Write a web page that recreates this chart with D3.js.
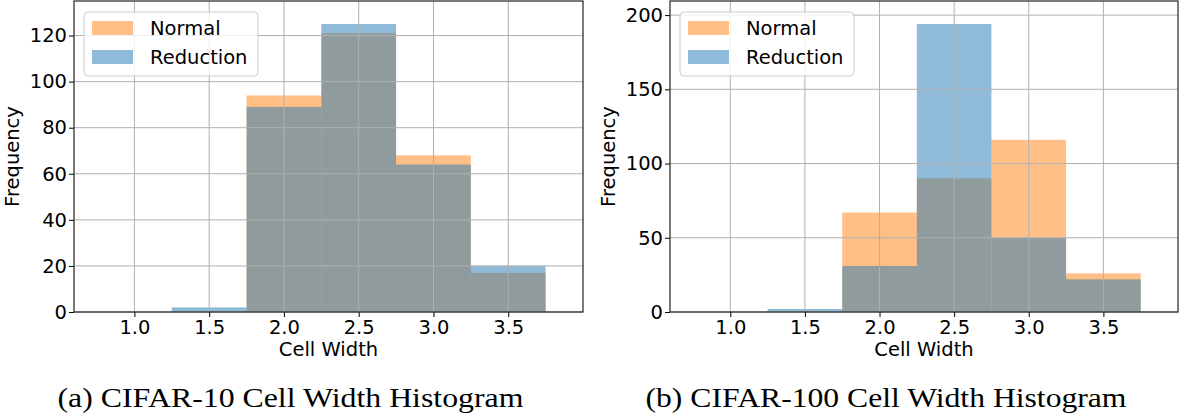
<!DOCTYPE html>
<html>
<head>
<meta charset="utf-8">
<script src="https://cdn.jsdelivr.net/npm/d3@7/dist/d3.min.js"></script>
<style>
  body { margin: 0; background: #fff; }
  svg text { font-family: "DejaVu Sans", sans-serif; fill: #000; }
  .caption { font-family: "Liberation Serif", serif; }
</style>
</head>
<body>
<div id="chart"></div>
<script>
// bin centres (bins are 0.5 wide)
const binCenters = [1.0, 1.5, 2.0, 2.5, 3.0, 3.5]
const binWidth = 0.5

const cifar10Normal = [0, 0, 94, 121, 68, 17]
const cifar10Reduction = [0, 2, 89, 125, 64, 20]
const cifar100Normal = [0, 0, 67, 90, 116, 26]
const cifar100Reduction = [0, 2, 31, 194, 50, 22]

const xTicks = [1.0, 1.5, 2.0, 2.5, 3.0, 3.5]
const yTicks10 = [0, 20, 40, 60, 80, 100, 120]
const yTicks100 = [0, 50, 100, 150, 200]

const seriesNames = ["Normal", "Reduction"]
const seriesColors = ["#ff7f0e", "#1f77b4"]
const captions = ["(a) CIFAR-10 Cell Width Histogram", "(b) CIFAR-100 Cell Width Histogram"]

const W = 1186, H = 417
const fontSize = "19.5px"
const svg = d3.select("#chart").append("svg")
    .attr("width", W).attr("height", H)

const panels = [
    { left: 74, right: 583, yMax: 135, yTicks: yTicks10, series: [cifar10Normal, cifar10Reduction], caption: captions[0], capW: 466 },
    { left: 670, right: 1178, yMax: 209.5, yTicks: yTicks100, series: [cifar100Normal, cifar100Reduction], caption: captions[1], capW: 481 }
]
const plotTop = 1, plotBottom = 312

const drawPanel = (p) => {
    const g = svg.append("g")
    const xScale = d3.scaleLinear().domain([0.596, 4.0]).range([p.left, p.right])
    const yScale = d3.scaleLinear().domain([0, p.yMax]).range([plotBottom, plotTop])

    // bars, orange first then blue on top
    p.series.forEach((vals, si) => {
        g.append("g").selectAll("rect")
            .data(binCenters.map((c, i) => ({ c, v: vals[i] })).filter(d => d.v > 0))
            .enter()
            .append("rect")
            .attr("x", d => xScale(d.c - binWidth / 2))
            .attr("width", d => xScale(d.c + binWidth / 2) - xScale(d.c - binWidth / 2))
            .attr("y", d => yScale(d.v))
            .attr("height", d => yScale(0) - yScale(d.v))
            .attr("fill", seriesColors[si])
            .attr("fill-opacity", 0.5)
    })

    // grid over bars
    const grid = g.append("g")
    grid.selectAll(".vg").data(xTicks).enter().append("line")
        .attr("x1", d => xScale(d)).attr("x2", d => xScale(d))
        .attr("y1", plotTop).attr("y2", plotBottom)
        .attr("stroke", "#b0b0b0").attr("stroke-width", 1)
    grid.selectAll(".hg").data(p.yTicks).enter().append("line")
        .attr("x1", p.left).attr("x2", p.right)
        .attr("y1", d => yScale(d)).attr("y2", d => yScale(d))
        .attr("stroke", "#b0b0b0").attr("stroke-width", 1)

    // axes
    const bottomAxis = d3.axisBottom(xScale)
        .tickValues(xTicks)
        .tickFormat(d3.format(".1f"))
        .tickSize(5).tickPadding(3).tickSizeOuter(0)
    const xg = g.append("g")
        .attr("transform", `translate(0,${plotBottom})`)
        .call(bottomAxis)
    xg.select(".domain").remove()
    xg.selectAll("text").style("font-size", fontSize).attr("fill", "#000")
    xg.selectAll(".tick line").attr("stroke", "#000")

    const leftAxis = d3.axisLeft(yScale)
        .tickValues(p.yTicks)
        .tickFormat(d3.format("d"))
        .tickSize(5).tickPadding(2).tickSizeOuter(0)
    const yg = g.append("g")
        .attr("transform", `translate(${p.left},0)`)
        .call(leftAxis)
    yg.select(".domain").remove()
    yg.selectAll("text").style("font-size", fontSize).attr("fill", "#000")
    yg.selectAll(".tick line").attr("stroke", "#000")

    // frame
    g.append("rect")
        .attr("x", p.left).attr("y", plotTop)
        .attr("width", p.right - p.left).attr("height", plotBottom - plotTop)
        .attr("fill", "none").attr("stroke", "#222").attr("stroke-width", 1.2)

    // axis labels
    g.append("text")
        .attr("x", (p.left + p.right) / 2).attr("y", 356)
        .attr("text-anchor", "middle")
        .style("font-size", fontSize)
        .text("Cell Width")
    g.append("text")
        .attr("transform", `translate(${p.left - 55.5},${(plotTop + plotBottom) / 2}) rotate(-90)`)
        .attr("text-anchor", "middle")
        .style("font-size", fontSize)
        .text("Frequency")

    // legend
    const lx = p.left + 10, ly = 12
    const lg = g.append("g")
    lg.append("rect")
        .attr("x", lx).attr("y", ly).attr("width", 174).attr("height", 64)
        .attr("rx", 4)
        .attr("fill", "#fff").attr("fill-opacity", 0.8)
        .attr("stroke", "#ccc")
    seriesNames.forEach((name, i) => {
        lg.append("rect")
            .attr("x", lx + 8).attr("y", ly + 9 + i * 29)
            .attr("width", 41).attr("height", 14)
            .attr("fill", seriesColors[i]).attr("fill-opacity", 0.5)
        lg.append("text")
            .attr("x", lx + 66).attr("y", ly + 23 + i * 29)
            .style("font-size", fontSize)
            .text(name)
    })

    // caption
    svg.append("text")
        .attr("class", "caption")
        .attr("x", (p.left + p.right) / 2 - 38).attr("y", 407)
        .attr("text-anchor", "middle")
        .attr("textLength", p.capW)
        .attr("lengthAdjust", "spacingAndGlyphs")
        .style("font-size", "27px")
        .text(p.caption)
}

panels.forEach(drawPanel)
</script>
</body>
</html>
